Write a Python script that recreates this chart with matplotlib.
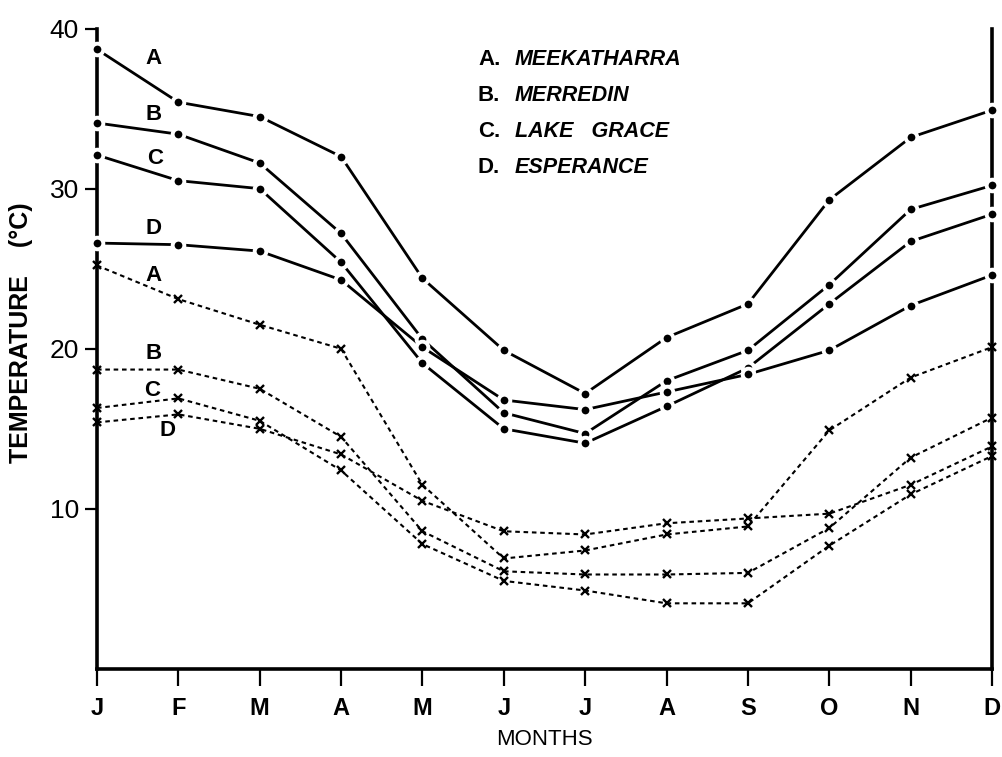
import matplotlib
matplotlib.use("Agg")
import matplotlib.pyplot as plt

plt.rcParams['font.family'] = ['Liberation Sans', 'DejaVu Sans']

months = ['J', 'F', 'M', 'A', 'M', 'J', 'J', 'A', 'S', 'O', 'N', 'D']

# Mean maximum temperatures (solid lines, dots)
max_A = [38.7, 35.4, 34.5, 32.0, 24.4, 19.9, 17.2, 20.7, 22.8, 29.3, 33.2, 34.9]
max_B = [34.1, 33.4, 31.6, 27.2, 20.6, 16.0, 14.7, 18.0, 19.9, 24.0, 28.7, 30.2]
max_C = [32.1, 30.5, 30.0, 25.4, 19.1, 15.0, 14.1, 16.4, 18.8, 22.8, 26.7, 28.4]
max_D = [26.6, 26.5, 26.1, 24.3, 20.1, 16.8, 16.2, 17.3, 18.4, 19.9, 22.7, 24.6]

# Mean minimum temperatures (dotted lines, crosses)
min_A = [25.2, 23.1, 21.5, 20.0, 11.5, 6.9, 7.4, 8.4, 8.9, 14.9, 18.2, 20.1]
min_B = [18.7, 18.7, 17.5, 14.5, 8.6, 6.1, 5.9, 5.9, 6.0, 8.8, 13.2, 15.7]
min_C = [16.3, 16.9, 15.5, 12.4, 7.8, 5.5, 4.9, 4.1, 4.1, 7.7, 10.9, 13.3]
min_D = [15.4, 15.9, 15.0, 13.4, 10.5, 8.6, 8.4, 9.1, 9.4, 9.7, 11.5, 13.9]

series_labels = ['A', 'B', 'C', 'D']
stations = ['MEEKATHARRA', 'MERREDIN', 'LAKE   GRACE', 'ESPERANCE']
yticks = [10, 20, 30, 40]

fig = plt.figure(figsize=(10.02, 7.57), dpi=100)
ax = fig.add_axes([0.0968, 0.1163, 0.8932, 0.846])
x = list(range(len(months)))

max_series = [max_A, max_B, max_C, max_D]
min_series = [min_A, min_B, min_C, min_D]

for ys in max_series:
    ax.plot(x, ys, color='black', lw=2.0, solid_capstyle='butt', zorder=2, clip_on=False)
for ys in min_series:
    ax.plot(x, ys, color='black', lw=1.5, ls=(0, (2.2, 1.8)), zorder=2, clip_on=False)
for ys in max_series:
    ax.plot(x, ys, ls='none', marker='o', ms=8.4, mfc='black', mec='white',
            mew=2.8, zorder=4, clip_on=False)
for ys in min_series:
    ax.plot(x, ys, ls='none', marker='x', ms=6.0, mec='black', mew=1.7,
            zorder=5, clip_on=False)

ax.set_xlim(0, 11)
ax.set_ylim(0, 40)

ax.set_xticks(x)
ax.set_xticklabels(months, fontsize=17, fontweight='bold')
ax.set_yticks(yticks)
ax.set_yticklabels([str(t) for t in yticks], fontsize=19)
ax.tick_params(axis='both', direction='out', width=1.6)
ax.tick_params(axis='y', length=9, pad=4)
ax.tick_params(axis='x', length=12, pad=8)

for side in ['left', 'bottom', 'right']:
    ax.spines[side].set_linewidth(2.6)
ax.spines['top'].set_visible(False)

ax.set_xlabel('MONTHS', fontsize=16, labelpad=7)
ax.set_ylabel('TEMPERATURE    (°C)', fontsize=18, fontweight='bold')
ax.yaxis.set_label_coords(-0.0715, 0.525)

# Series labels near the start of each curve
max_label_pos = [(0.69, 38.1), (0.70, 34.6), (0.71, 31.9), (0.69, 27.5)]
min_label_pos = [(0.69, 24.6), (0.69, 19.7), (0.68, 17.4), (0.87, 14.9)]
for lab, (lx, ly) in zip(series_labels, max_label_pos):
    ax.text(lx, ly, lab, fontsize=16, fontweight='bold', ha='center', va='center')
for lab, (lx, ly) in zip(series_labels, min_label_pos):
    ax.text(lx, ly, lab, fontsize=16, fontweight='bold', ha='center', va='center')

# Key
for i, (lab, st) in enumerate(zip(series_labels, stations)):
    yk = 0.921 - i * 0.0475
    fig.text(0.477, yk, lab + '.', fontsize=16, fontweight='bold', ha='left', va='center')
    fig.text(0.514, yk, st, fontsize=15.5, fontweight='bold', fontstyle='italic',
             ha='left', va='center')

fig.savefig('out.png', dpi=100)
